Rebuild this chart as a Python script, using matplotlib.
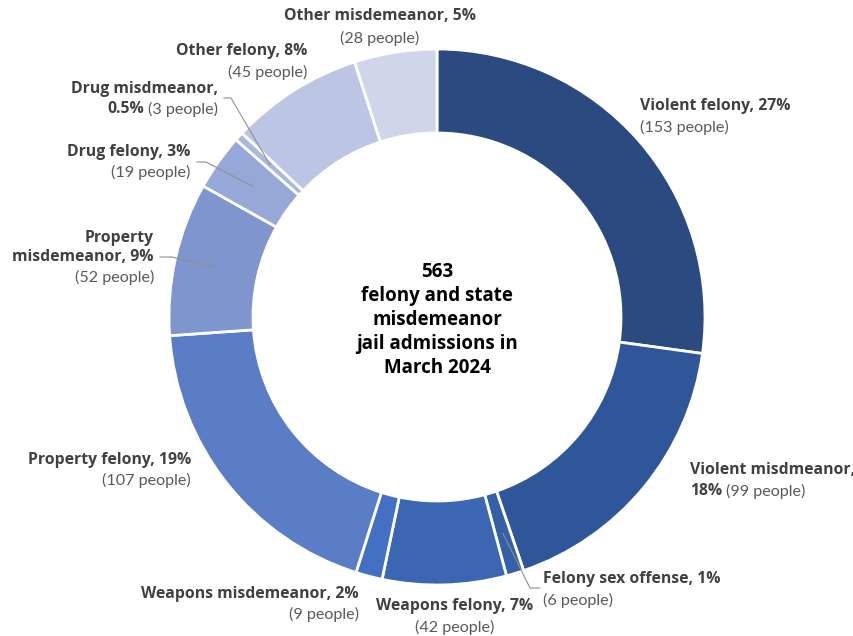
import numpy as np
import matplotlib
matplotlib.use("Agg")
import matplotlib.pyplot as plt

plt.rcParams['font.family'] = ['Lato', 'DejaVu Sans']

categories = ['Violent felony', 'Violent misdmeanor', 'Felony sex offense',
              'Weapons felony', 'Weapons misdemeanor', 'Property felony',
              'Property misdemeanor', 'Drug felony', 'Drug misdmeanor',
              'Other felony', 'Other misdemeanor']
people = [153, 99, 6, 42, 9, 107, 52, 19, 3, 45, 28]
pct_labels = ['27%', '18%', '1%', '7%', '2%', '19%', '9%', '3%', '0.5%', '8%', '5%']
colors = ['#2A4A80', '#30569A', '#3460A8', '#3D66B2', '#4470C4', '#5A7DC6',
          '#7F95CE', '#96A8D7', '#A9B8DE', '#BCC6E4', '#D0D6EA']
total = sum(people)

W, H = 854, 636
fig = plt.figure(figsize=(W / 100, H / 100), dpi=100)
ax = fig.add_axes([0, 0, 1, 1])

cx, cy = 437, 317
R, ring = 268, 84
# y axis is flipped below, so counterclock=True runs clockwise on screen
ax.pie(people, colors=colors, startangle=-90, counterclock=True,
       center=(cx, cy), radius=R, frame=True,
       wedgeprops=dict(width=ring, edgecolor='white', linewidth=2))
ax.set_xlim(0, W)
ax.set_ylim(H, 0)
ax.axis('off')
ax.set_aspect('equal')

bold_c = '#404040'
reg_c = '#595959'
bold_font = ['Open Sans', 'DejaVu Sans']
fsb = 11.3
fsr = 11.6
fig.canvas.draw()
rend = fig.canvas.get_renderer()


def btxt(x, y, s, ha):
    return ax.text(x, y, s, ha=ha, va='center', fontsize=fsb, family=bold_font,
                   fontweight='bold', color=bold_c)


def rtxt(x, y, s, ha):
    return ax.text(x, y, s, ha=ha, va='center', fontsize=fsr, color=reg_c)


def ppl(i):
    return '(%d people)' % people[i]


def mixed_left(x, y, b, r):
    t = btxt(x, y, b, 'left')
    bb = t.get_window_extent(rend)
    rtxt(x + bb.width + 4, y, r, 'left')


def mixed_right(x, y, b, r):
    t = rtxt(x, y, r, 'right')
    bb = t.get_window_extent(rend)
    btxt(x - bb.width - 4, y, b, 'right')


def mid_point(i):
    # middle of the ring at the middle of slice i (screen coords)
    before = sum(people[:i])
    frac = (before + people[i] / 2) / total
    ang = np.deg2rad(90 - 360 * frac)
    r = R - ring / 2
    return cx + r * np.cos(ang), cy - r * np.sin(ang)


def leader(i, pts):
    x, y = mid_point(i)
    xs = [p[0] for p in pts] + [x]
    ys = [p[1] for p in pts] + [y]
    ax.plot(xs, ys, color='#909090', lw=0.8)


# Violent felony
btxt(640, 106, categories[0] + ', ' + pct_labels[0], 'left')
rtxt(640, 127, ppl(0), 'left')
# Violent misdmeanor
btxt(690, 470, categories[1] + ',', 'left')
mixed_left(690, 491, pct_labels[1], ppl(1))
# Felony sex offense
btxt(543, 579, categories[2] + ', ' + pct_labels[2], 'left')
rtxt(543, 600, ppl(2), 'left')
leader(2, [(540, 588), (530, 588)])
# Weapons felony
btxt(455, 606, categories[3] + ', ' + pct_labels[3], 'center')
rtxt(455, 627, ppl(3), 'center')
# Weapons misdemeanor
btxt(359, 594, categories[4] + ', ' + pct_labels[4], 'right')
rtxt(359, 614, ppl(4), 'right')
# Property felony
btxt(191, 460, categories[5] + ', ' + pct_labels[5], 'right')
rtxt(191, 480, ppl(5), 'right')
# Property misdemeanor
btxt(154, 238, 'Property', 'right')
btxt(154, 257, 'misdemeanor, ' + pct_labels[6], 'right')
rtxt(154, 277, ppl(6), 'right')
leader(6, [(160, 257), (172, 257)])
# Drug felony
btxt(190, 152, categories[7] + ', ' + pct_labels[7], 'right')
rtxt(190, 172, ppl(7), 'right')
leader(7, [(197, 162), (206, 162)])
# Drug misdmeanor
btxt(218, 89, categories[8] + ',', 'right')
mixed_right(218, 109, pct_labels[8], ppl(8))
leader(8, [(224, 98), (231, 98)])
# Other felony
btxt(307, 51, categories[9] + ', ' + pct_labels[9], 'right')
rtxt(307, 72, ppl(9), 'right')
# Other misdemeanor
btxt(380, 16, categories[10] + ', ' + pct_labels[10], 'center')
rtxt(380, 38, ppl(10), 'center')

center_lines = ['%d' % total, 'felony and state', 'misdemeanor',
                'jail admissions in', 'March 2024']
for k, line in enumerate(center_lines):
    ax.text(cx, 272 + k * 24, line, ha='center', va='center', family=bold_font,
            fontsize=13.5, fontweight='bold', color='black')

fig.savefig('out.png', dpi=100)
